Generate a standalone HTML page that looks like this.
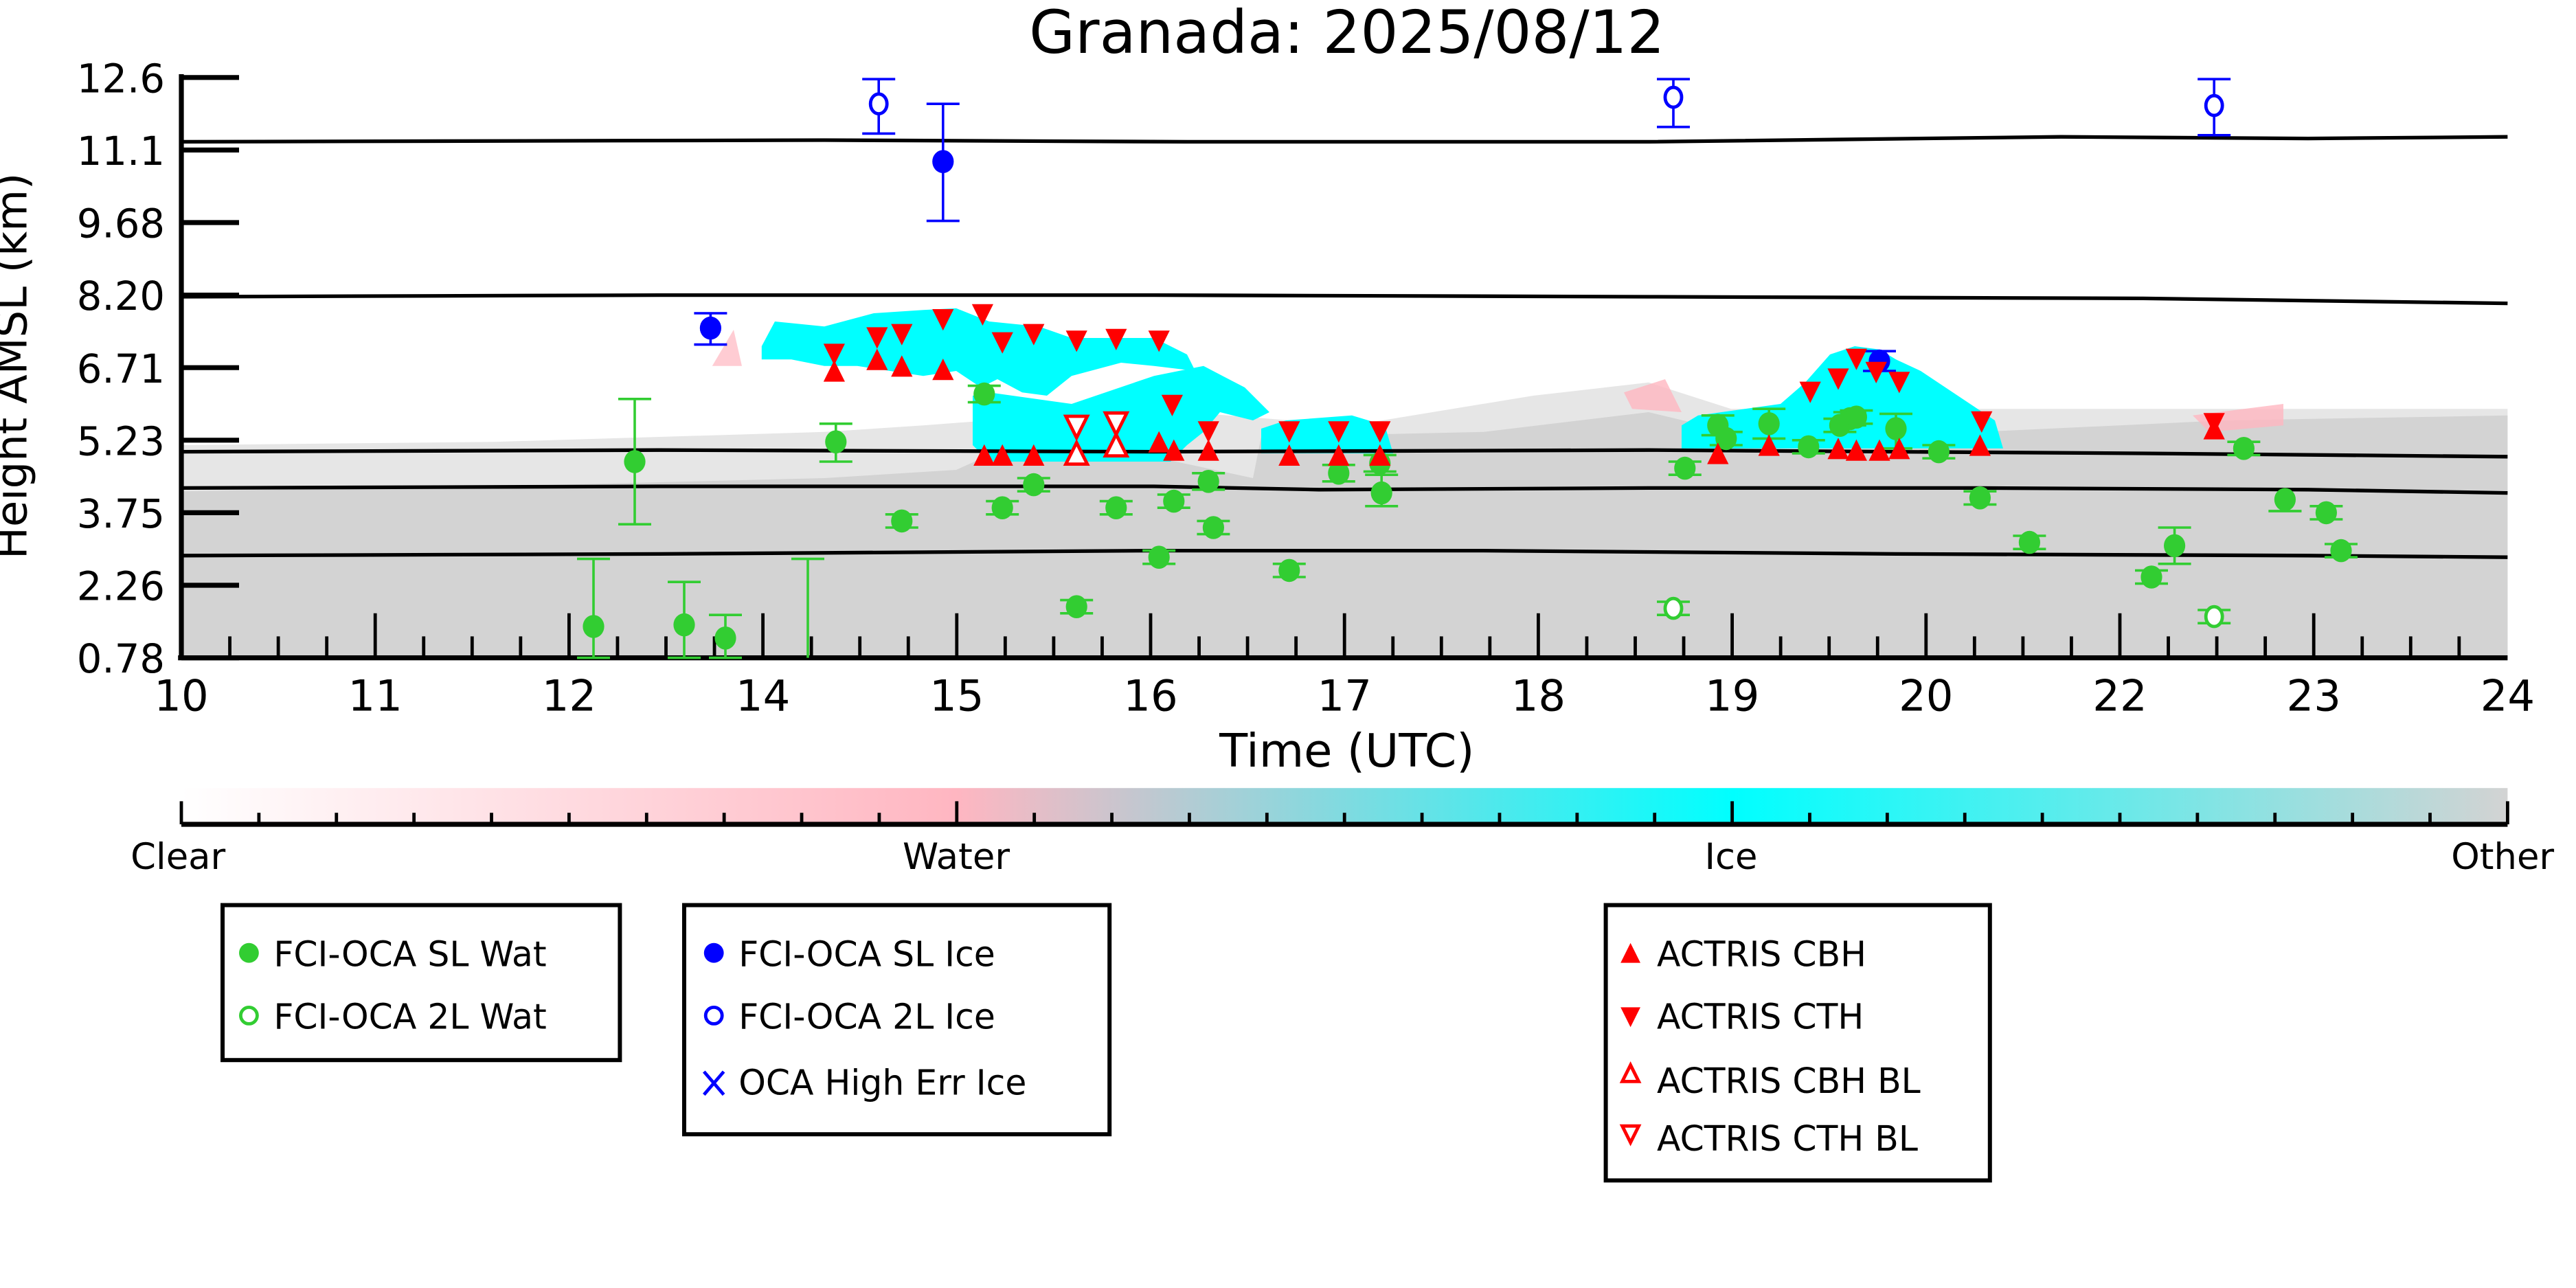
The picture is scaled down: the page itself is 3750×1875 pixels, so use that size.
<!DOCTYPE html>
<html><head><meta charset="utf-8"><style>html,body{margin:0;padding:0;background:#fff}svg{display:block}text{font-family:"DejaVu Sans","Liberation Sans",sans-serif}</style></head>
<body>
<svg id="s" width="3750" height="1875" viewBox="0 0 1562.5 781.25" xmlns="http://www.w3.org/2000/svg">
<defs>
<linearGradient id="cb" x1="0" x2="1" y1="0" y2="0">
<stop offset="0" stop-color="#ffffff"/><stop offset="0.333" stop-color="#ffb6c1"/><stop offset="0.667" stop-color="#00ffff"/><stop offset="1" stop-color="#d3d3d3"/>
</linearGradient>
</defs>
<rect width="1562.5" height="781.25" fill="#fff"/>
<text x="817" y="32" font-size="36" text-anchor="middle">Granada: 2025/08/12</text>
<!-- background gray -->
<polygon fill="#e6e6e6" points="110,399 110,270 300,268 500,262 560,258 600,255 720,250 820,258 930,240 1000,232 1050,248 1521,248 1521,399"/>
<polygon fill="#d3d3d3" points="110,399 110,298 300,295 500,290 580,285 600,276 690,275 760,290 765,265 900,262 1000,250 1050,262 1200,262 1350,255 1521,252 1521,399"/>
<polygon fill="#d3d3d3" points="110,399 110,340 1521,340 1521,399"/>
<!-- pink bits -->
<polygon fill="#ffb6c1" points="432,222 445,200 450,222" opacity="0.7"/>
<polygon fill="#ffb6c1" points="985,238 1010,230 1020,250 990,248" opacity="0.8"/>
<polygon fill="#ffb6c1" points="1330,252 1385,245 1385,258 1340,262" opacity="0.8"/>
<!-- cyan -->
<polygon fill="#00ffff" points="462,210 470,195 500,198 530,190 560,188 580,187 600,195 630,198 650,205 700,205 720,215 725,225 700,222 680,220 650,228 635,240 620,238 605,230 595,235 580,225 560,228 540,225 520,222 500,222 480,218 462,218"/>
<polygon fill="#00ffff" points="590,240 600,238 650,245 700,228 730,222 755,235 770,250 760,255 740,250 730,262 720,270 710,280 600,280 590,270"/>
<polygon fill="#00ffff" points="765,260 780,255 820,252 840,258 845,275 765,275"/>
<polygon fill="#00ffff" points="1020,258 1030,252 1080,245 1095,232 1110,215 1125,210 1140,212 1150,218 1165,225 1180,235 1195,245 1210,255 1215,272 1020,272"/>
<!-- black lines -->
<g fill="none" stroke="#000" stroke-width="2.2">
<polyline points="110,86 500,85 720,86 1000,86 1250,83 1400,84 1521,83"/>
<polyline points="110,180 400,179 700,179 1000,180 1300,181 1521,184"/>
<polyline points="110,274 400,273 700,274 1000,273 1300,275 1521,277"/>
<polyline points="110,296 400,295 700,295 800,297 1000,296 1200,296 1400,297 1521,299"/>
<polyline points="110,337 400,336 700,334 900,334 1150,336 1400,337 1521,338"/>
</g>
<!-- axes -->
<g stroke="#000" stroke-width="3">
<line x1="110" y1="45" x2="110" y2="400"/>
<line x1="108" y1="399" x2="1521" y2="399"/>
</g>
<g id="yt" stroke="#000" stroke-width="3"></g>
<g id="xt" stroke="#000" stroke-width="2"></g>
<g id="yl" font-size="24" text-anchor="end"></g>
<g id="xl" font-size="26" text-anchor="middle"></g>
<text x="817" y="465" font-size="28" text-anchor="middle">Time (UTC)</text>
<text transform="translate(16,222) rotate(-90)" font-size="26" text-anchor="middle">Height AMSL (km)</text>
<g id="mk"></g>
<!-- colorbar -->
<rect x="110" y="478" width="1411" height="22" fill="url(#cb)"/>
<line x1="110" y1="500" x2="1521" y2="500" stroke="#000" stroke-width="3"/>
<g id="cbt" stroke="#000" stroke-width="2"></g>
<g font-size="22" text-anchor="middle">
<text x="108" y="527">Clear</text><text x="580" y="527">Water</text><text x="1050" y="527">Ice</text><text x="1518" y="527">Other</text>
</g>
<!-- legends -->
<g fill="none" stroke="#000" stroke-width="2.5">
<rect x="135" y="549" width="241" height="94"/>
<rect x="415" y="549" width="258" height="139"/>
<rect x="974" y="549" width="233" height="167"/>
</g>
<g font-size="21">
<circle cx="151" cy="578" r="6" fill="#32cd32"/><text x="166" y="586">FCI-OCA SL Wat</text>
<circle cx="151" cy="616" r="5" fill="none" stroke="#32cd32" stroke-width="2"/><text x="166" y="624">FCI-OCA 2L Wat</text>
<circle cx="433" cy="578" r="6" fill="#0000ff"/><text x="448" y="586">FCI-OCA SL Ice</text>
<circle cx="433" cy="616" r="5" fill="none" stroke="#0000ff" stroke-width="2"/><text x="448" y="624">FCI-OCA 2L Ice</text>
<path d="M427,650 L439,664 M439,650 L427,664" stroke="#0000ff" stroke-width="2"/><text x="448" y="664">OCA High Err Ice</text>
<polygon points="989,572 983,584 995,584" fill="#f00"/><text x="1005" y="586">ACTRIS CBH</text>
<polygon points="983,611 995,611 989,623" fill="#f00"/><text x="1005" y="624">ACTRIS CTH</text>
<polygon points="989,646 984,656 994,656" fill="none" stroke="#f00" stroke-width="2"/><text x="1005" y="663">ACTRIS CBH BL</text>
<polygon points="984,683 994,683 989,693" fill="none" stroke="#f00" stroke-width="2"/><text x="1005" y="698">ACTRIS CTH BL</text>
</g>
</svg>
<script>
var NS="http://www.w3.org/2000/svg";
function el(p,t,a){var e=document.createElementNS(NS,t);for(var k in a)e.setAttribute(k,a[k]);document.getElementById(p).appendChild(e);return e;}
var yl=["0.78","2.26","3.75","5.23","6.71","8.20","9.68","11.1","12.6"];
for(var i=0;i<9;i++){var y=399-44*i;el("yt","line",{x1:110,y1:y,x2:145,y2:y});var t=el("yl","text",{x:100,y:y+9});t.textContent=yl[i];}
var xl=["10","11","12","14","15","16","17","18","19","20","22","23","24"];
var d=1411/12;
for(var i=0;i<13;i++){var x=110+d*i;if(i>0&&i<12)el("xt","line",{x1:x,y1:399,x2:x,y2:372});var t=el("xl","text",{x:x,y:431});t.textContent=xl[i];}
for(var j=0;j<48;j++){if(j%4==0)continue;var x=110+d/4*j;el("xt","line",{x1:x,y1:399,x2:x,y2:386});}
for(var j=0;j<=30;j++){var x=110+1411/30*j;var h=(j%10==0)?14:7;el("cbt","line",{x1:x,y1:500,x2:x,y2:500-h});}
var G="#32cd32",B="#0000ff",R="#ff0000";
function pt(x,y,c,open,e1,e2){if(e1!=null){el("mk","line",{x1:x,y1:e1,x2:x,y2:e2,stroke:c,"stroke-width":1.5});el("mk","line",{x1:x-10,y1:e1,x2:x+10,y2:e1,stroke:c,"stroke-width":1.5});el("mk","line",{x1:x-10,y1:e2,x2:x+10,y2:e2,stroke:c,"stroke-width":1.5});}
if(open)el("mk","ellipse",{cx:x,cy:y,rx:5,ry:6,fill:"#fff",stroke:c,"stroke-width":2});else el("mk","ellipse",{cx:x,cy:y,rx:6.5,ry:7,fill:c});}
var gw=[[360,380,339,399],[385,280,242,318],[415,379,353,399],[440,387,373,399],[507,268,257,280],[547,316,312,320],[597,239,234,244],[608,308,304,312],[627,294,290,298],[653,368,364,372],[677,308,304,312],[703,338,334,342],[712,304,300,308],[733,292,287,297],[736,320,316,324],[782,346,342,350],[812,287,282,292],[837,281,276,286],[838,299,288,307],[1022,284,280,288],[1042,258,252,264],[1047,266,262,270],[1073,257,248,266],[1097,271,267,275],[1116,258,254,262],[1122,254,250,258],[1126,253,249,257],[1150,260,251,272],[1176,274,270,278],[1201,302,298,306],[1231,329,325,333],[1305,350,346,354],[1319,331,320,342],[1361,272,268,276],[1386,303,310,310],[1411,311,307,315],[1420,334,330,338]];
el("mk","line",{x1:490,y1:339,x2:490,y2:399,stroke:G,"stroke-width":1.5});el("mk","line",{x1:480,y1:339,x2:500,y2:339,stroke:G,"stroke-width":1.5});
gw.forEach(function(p){pt(p[0],p[1],G,false,p[2],p[3]);});
pt(1015,369,G,true,365,373);pt(1343,374,G,true,370,378);
pt(431,199,B,false,190,209);pt(572,98,B,false,63,134);pt(1140,219,B,false,213,225);
pt(533,63,B,true,48,81);pt(1015,59,B,true,48,77);pt(1343,64,B,true,48,82);
function tri(x,y,up,open){var s=6.5,pts=up?[x,y-s,x-s,y+s,x+s,y+s]:[x-s,y-s,x+s,y-s,x,y+s];
if(open)el("mk","polygon",{points:pts.join(","),fill:"#fff",stroke:R,"stroke-width":2});else el("mk","polygon",{points:pts.join(","),fill:R});}
[[506,215],[532,205],[547,203],[572,194],[596,191],[608,208],[627,203],[653,207],[677,206],[703,207],[711,246],[733,262],[782,262],[812,262],[837,262],[1098,238],[1115,230],[1126,218],[1138,226],[1152,232],[1202,256],[1343,257]].forEach(function(p){tri(p[0],p[1],false);});
[[506,225],[532,218],[547,222],[572,224],[597,276],[608,276],[627,276],[703,268],[712,273],[733,273],[782,276],[812,276],[837,276],[1042,275],[1073,270],[1115,272],[1126,273],[1140,273],[1152,272],[1201,270],[1343,260]].forEach(function(p){tri(p[0],p[1],true);});
tri(653,259,false,true);tri(677,257,false,true);tri(653,275,true,true);tri(677,270,true,true);
</script>
</body></html>
